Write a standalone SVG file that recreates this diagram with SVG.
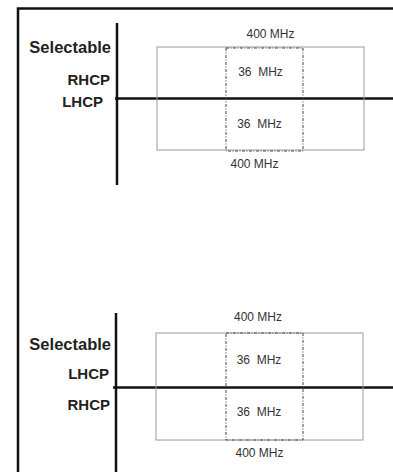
<svg xmlns="http://www.w3.org/2000/svg" width="393" height="472" viewBox="0 0 393 472">
<style>
.axis{stroke:#111;stroke-width:2.5;fill:none}
.band{fill:none;stroke:#9a9a9a;stroke-width:1}
.chan{fill:none;stroke:#444;stroke-width:1;stroke-dasharray:3 1.5 1 1.5}
.lbl{font-family:"Liberation Sans",Arial,sans-serif;font-weight:bold;fill:#222;text-anchor:end}
.freq{font-family:"Liberation Sans",Arial,sans-serif;font-size:12px;fill:#333;text-anchor:middle}
</style>
<rect width="393" height="472" fill="#fff"/>
<path class="axis" d="M18,472 V8.5 H393"/>
<g id="connectors">
<line class="axis" x1="117" y1="23" x2="117" y2="185"/>
<line class="axis" x1="115" y1="98.5" x2="393" y2="98.5"/>
<line class="axis" x1="116" y1="313" x2="116" y2="472"/>
<line class="axis" x1="113" y1="387.5" x2="393" y2="387.5"/>
</g>
<g id="top-band">
<rect class="band" x="157" y="47" width="207" height="103"/>
<rect class="chan" x="226" y="48" width="77" height="103"/>
<text class="freq" x="270.5" y="38">400 MHz</text>
<text class="freq" x="260.5" y="76" xml:space="preserve">36  MHz</text>
<text class="freq" x="259.5" y="128" xml:space="preserve">36  MHz</text>
<text class="freq" x="254.5" y="168">400 MHz</text>
</g>
<g id="top-labels">
<text class="lbl" x="111" y="53" font-size="16.5">Selectable</text>
<text class="lbl" x="110" y="85" font-size="15">RHCP</text>
<text class="lbl" x="103" y="107" font-size="15">LHCP</text>
</g>
<g id="bottom-band">
<rect class="band" x="156" y="333" width="207" height="107"/>
<rect class="chan" x="226" y="333" width="77" height="107"/>
<text class="freq" x="258" y="321">400 MHz</text>
<text class="freq" x="259" y="364" xml:space="preserve">36  MHz</text>
<text class="freq" x="259" y="416" xml:space="preserve">36  MHz</text>
<text class="freq" x="259.5" y="457">400 MHz</text>
</g>
<g id="bottom-labels">
<text class="lbl" x="111" y="350" font-size="16.5">Selectable</text>
<text class="lbl" x="109" y="379" font-size="15">LHCP</text>
<text class="lbl" x="110" y="410" font-size="15">RHCP</text>
</g>
</svg>
